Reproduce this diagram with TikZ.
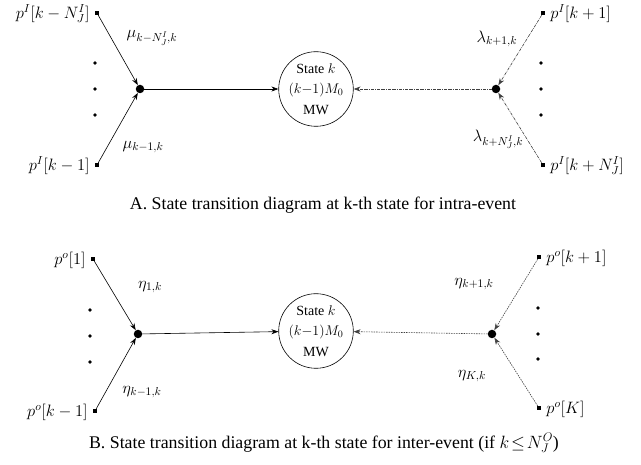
\RequirePackage{fix-cm}
\documentclass[tikz,border=0pt]{standalone}
\usepackage{fontspec}
\setmainfont{Liberation Serif}
\usetikzlibrary{arrows.meta}
\begin{document}
\begin{tikzpicture}[x=1pt,y=-1pt,
  endpt/.style={rectangle, fill, minimum size=4pt, inner sep=0pt},
  dotpt/.style={circle, fill, minimum size=3.6pt, inner sep=0pt},
  junc/.style={circle, fill, minimum size=8.5pt, inner sep=0pt},
  statenode/.style={circle, draw, line width=0.6pt, minimum size=72pt, inner sep=0pt, align=center, font=\fontsize{14}{20.5}\selectfont},
  arr/.style={-{Stealth[length=7pt,width=5pt]}, line width=0.6pt},
  dd/.style={densely dash dot, draw=black!75},
  dt/.style={dash pattern=on 1.5pt off 1pt, draw=black!75},
  lbl/.style={font=\fontsize{16.5}{19}\selectfont, inner sep=1pt},
  captext/.style={font=\fontsize{17.8}{20}\selectfont, inner sep=0pt}]
\useasboundingbox (0,0) rectangle (641,465);

% ---------- Panel A ----------
\node[endpt] (atl) at (97,13) {};
\node[endpt] (abl) at (97,165) {};
\node[dotpt] (ad1) at (95,63) {};
\node[dotpt] (ad2) at (95,89) {};
\node[dotpt] (ad3) at (95,115) {};
\node[junc] (ajl) at (140,89) {};
\node[statenode] (as) at (316,89) {State $k$\\$(k{-}1)M_0$\\MW};
\node[junc] (ajr) at (496,89) {};
\node[endpt] (atr) at (543,13) {};
\node[endpt] (abr) at (543,165) {};
\node[dotpt] (ad4) at (541,63) {};
\node[dotpt] (ad5) at (541,89) {};
\node[dotpt] (ad6) at (541,115) {};

\node[lbl, anchor=east] (latl) at ([xshift=-4pt,yshift=-1pt]atl.west) {$p^I[k-N_J^I]$};
\node[lbl, anchor=east] (labl) at ([xshift=-4pt,yshift=-1pt]abl.west) {$p^I[k-1]$};
\node[lbl, anchor=west] (latr) at ([xshift=4pt,yshift=-1pt]atr.east) {$p^I[k+1]$};
\node[lbl, anchor=west] (labr) at ([xshift=4pt,yshift=-1pt]abr.east) {$p^I[k+N_J^I]$};

\node[lbl] (amu1) at (152,38) {$\mu_{k-N_J^I,k}$};
\node[lbl] (amu2) at (143,147) {$\mu_{k-1,k}$};
\node[lbl] (alam1) at (497,39) {$\lambda_{k+1,k}$};
\node[lbl] (alam2) at (498,139) {$\lambda_{k+N_J^I,k}$};

\draw[arr] (atl) -- (ajl);
\draw[arr] (abl) -- (ajl);
\draw[arr] (ajl) -- (as);
\draw[arr, dd] (ajr) -- (as);
\draw[arr, dd] (atr) -- (ajr);
\draw[arr, dd] (abr) -- (ajr);

\node[captext] (capa) at (323,205) {A. State transition diagram at k-th state for intra-event};

% ---------- Panel B ----------
\node[endpt] (btl) at (93,259) {};
\node[endpt] (bbl) at (95,411) {};
\node[dotpt] (bd1) at (90,310) {};
\node[dotpt] (bd2) at (90,336) {};
\node[dotpt] (bd3) at (90,362) {};
\node[junc] (bjl) at (138,334) {};
\node[statenode] (bs) at (316,331) {State $k$\\$(k{-}1)M_0$\\MW};
\node[junc] (bjr) at (492,334) {};
\node[endpt] (btr) at (539,257) {};
\node[endpt] (bbr) at (539,408) {};
\node[dotpt] (bd4) at (538,308) {};
\node[dotpt] (bd5) at (538,334) {};
\node[dotpt] (bd6) at (538,359) {};

\node[lbl, anchor=east] (lbtl) at ([xshift=-4pt,yshift=-1pt]btl.west) {$p^{o}[1]$};
\node[lbl, anchor=east] (lbbl) at ([xshift=-4pt,yshift=-1pt]bbl.west) {$p^{o}[k-1]$};
\node[lbl, anchor=west] (lbtr) at ([xshift=4pt,yshift=-1pt]btr.east) {$p^{o}[k+1]$};
\node[lbl, anchor=west] (lbbr) at ([xshift=4pt,yshift=-1pt]bbr.east) {$p^{o}[K]$};

\node[lbl] (beta1) at (150,287) {$\eta_{1,k}$};
\node[lbl] (beta2) at (142,392) {$\eta_{k-1,k}$};
\node[lbl] (beta3) at (474,284) {$\eta_{k+1,k}$};
\node[lbl] (beta4) at (472,376) {$\eta_{K,k}$};

\draw[arr] (btl) -- (bjl);
\draw[arr] (bbl) -- (bjl);
\draw[arr] (bjl) -- (bs);
\draw[arr, dt] (bjr) -- (bs);
\draw[arr, dt] (btr) -- (bjr);
\draw[arr, dt] (bbr) -- (bjr);

\node[captext] (capb) at (324,443) {B. State transition diagram at k-th state for inter-event\ (if $k\!\le\! N_J^O$)};
\end{tikzpicture}
\end{document}
